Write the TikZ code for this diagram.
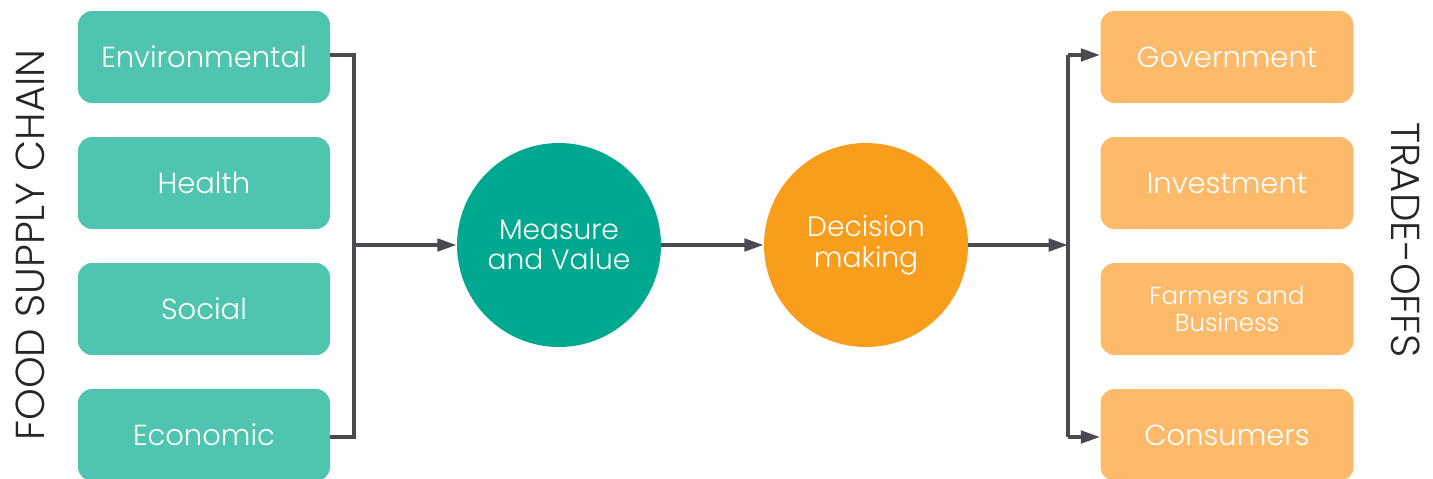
\documentclass[tikz,border=0pt]{standalone}
\usepackage{fontspec}
\setmainfont{Poppins}[UprightFont=* Light]
\usetikzlibrary{arrows.meta}

\definecolor{tealbox}{HTML}{4FC4AE}
\definecolor{tealdark}{HTML}{00A88F}
\definecolor{orangedark}{HTML}{F99D1C}
\definecolor{orangebox}{HTML}{FDBA6A}
\definecolor{linegray}{HTML}{4A4A50}

\tikzset{
  leftbox/.style={fill=tealbox, rounded corners=8pt, minimum width=252*0.02cm, minimum height=92*0.02cm, text=white, font=\fontsize{16.5}{19}\selectfont},
  rightbox/.style={fill=orangebox, rounded corners=8pt, minimum width=253*0.02cm, minimum height=92*0.02cm, text=white, font=\fontsize{16.5}{19}\selectfont, align=center},
  bigcircle/.style={circle, minimum size=204*0.02cm, text=white, align=center, font=\fontsize{16}{17.5}\selectfont},
  link/.style={linegray, line width=2.2pt},
  tip/.style={-{Triangle[length=11pt, width=7pt]}}
}

\begin{document}
\begin{tikzpicture}[x=0.02cm, y=-0.02cm]
      \useasboundingbox (0,0) rectangle (1433,478);
      % Left boxes:
      \node[leftbox] (env) at (204,57) {Environmental};
      \node[leftbox] (health) at (204,183) {Health};
      \node[leftbox] (social) at (204,309) {Social};
      \node[leftbox] (econ) at (204,435) {Economic};
      % Circles:
      \node[bigcircle, fill=tealdark] (measure) at (559,245) {Measure\\and Value};
      \node[bigcircle, fill=orangedark] (decision) at (866,245) {Decision\\making};
      % Right boxes:
      \node[rightbox] (gov) at (1227,57) {Government};
      \node[rightbox] (invest) at (1227,183) {Investment};
      \node[rightbox, font=\fontsize{14}{15.5}\selectfont] (farmers) at (1227,309) {Farmers and\\Business};
      \node[rightbox] (consumers) at (1227,435) {Consumers};
      % Side labels:
      \node[rotate=90, font=\fontsize{23}{26}\selectfont, text=black!85] (chain) at (30,245) {FOOD SUPPLY CHAIN};
      \node[rotate=-90, font=\fontsize{23}{26}\selectfont, text=black!85] (tradeoffs) at (1406,240) {TRADE-OFFS};
      % Connectors:
      \coordinate (ltop) at (354,55);
      \coordinate (lbot) at (354,437);
      \coordinate (lmid) at (354,245);
      \coordinate (rtop) at (1068,55);
      \coordinate (rbot) at (1068,437);
      \coordinate (rmid) at (1068,245);
      \draw[link] (env.east |- ltop) -- (ltop) -- (lbot) -- (econ.east |- lbot);
      \draw[link, tip] (lmid) -- (measure.west);
      \draw[link, tip] (measure.east) -- (decision.west);
      \draw[link, tip] (decision.east) -- (rmid);
      \draw[link, tip] (rtop) -- (gov.west |- rtop);
      \draw[link, tip] (rbot) -- (consumers.west |- rbot);
      \draw[link] (rtop) -- (rbot);
    \end{tikzpicture}
\end{document}
